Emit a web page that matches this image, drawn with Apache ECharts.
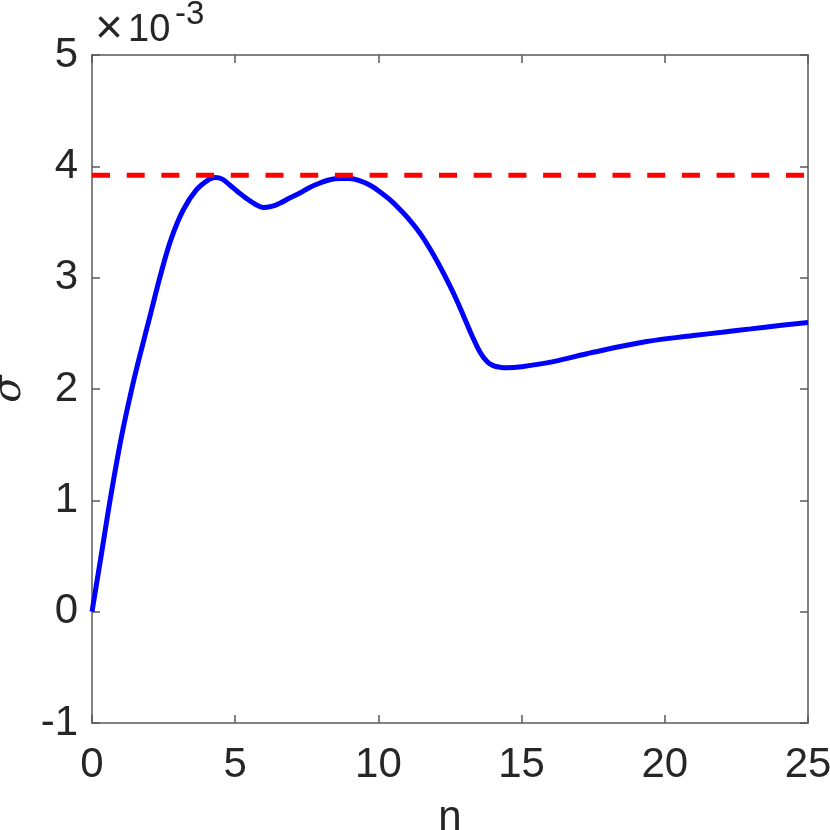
<!DOCTYPE html>
<html>
<head>
<meta charset="utf-8">
<script src="https://cdn.jsdelivr.net/npm/echarts@6/dist/echarts.min.js"></script>
<style>html,body{margin:0;padding:0;background:#fff}#c{width:830px;height:830px}</style>
</head>
<body>
<div id="c"></div>
<script>
// sigma values in units of 1e-3
const nValues = [0,0.33,0.67,1.02,1.37,1.70,2.05,2.43,2.78,3.19,3.65,4.07,4.30,4.55,4.82,5.10,5.40,5.70,5.98,6.27,6.57,6.90,7.26,7.60,7.96,8.30,8.66,9.00,9.36,9.71,10.06,10.40,10.76,11.10,11.45,11.80,12.15,12.45,12.73,13.00,13.25,13.55,13.80,14.01,14.25,14.48,15.0,16.11,17.5,19.37,21,22,23,24,25];
const sigmaValues = [0,0.52,1.06,1.56,1.98,2.33,2.68,3.06,3.36,3.61,3.79,3.88,3.90,3.885,3.83,3.77,3.71,3.66,3.63,3.64,3.67,3.715,3.76,3.81,3.85,3.88,3.89,3.89,3.87,3.83,3.77,3.70,3.61,3.515,3.40,3.26,3.10,2.95,2.80,2.64,2.49,2.33,2.245,2.21,2.195,2.19,2.20,2.246,2.33,2.426,2.48,2.51,2.54,2.57,2.597];
const refN = [0, 25];
const refSigma = [3.92, 3.92];
const xTicks = [0,5,10,15,20,25];
const yTicks = [-1,0,1,2,3,4,5];

const FONT = "'Liberation Sans', Arial, Helvetica, sans-serif";
const axisCol = '#5a5a5a';
const textCol = '#262626';

const chart = echarts.init(document.getElementById('c'), null, {renderer:'canvas'});
const baseX = {
  type:'value', min:xTicks[0], max:xTicks[xTicks.length-1], interval:5,
  axisLine:{show:true, onZero:false, lineStyle:{color:axisCol, width:1.5}},
  axisTick:{show:true, inside:true, length:8, lineStyle:{color:axisCol, width:1.5}},
  splitLine:{show:false}
};
const baseY = {
  type:'value', min:yTicks[0], max:yTicks[yTicks.length-1], interval:1,
  axisLine:{show:true, onZero:false, lineStyle:{color:axisCol, width:1.5}},
  axisTick:{show:true, inside:true, length:8, lineStyle:{color:axisCol, width:1.5}},
  splitLine:{show:false}
};
chart.setOption({
  animation:false,
  backgroundColor:'#fff',
  grid:{left:92, right:22, top:55, bottom:107, containLabel:false, outerBoundsMode:'none'},
  xAxis:[
    Object.assign({}, baseX, {position:'bottom',
      axisLabel:{show:true, margin:21, fontSize:42, color:textCol, fontFamily:FONT},
      name:'n', nameLocation:'middle', nameGap:74,
      nameTextStyle:{fontSize:42, color:textCol, fontFamily:FONT}}),
    Object.assign({}, baseX, {position:'top', axisLabel:{show:false}})
  ],
  yAxis:[
    Object.assign({}, baseY, {position:'left',
      axisLabel:{show:true, margin:14, fontSize:42, color:textCol, fontFamily:FONT},
      name:'σ', nameLocation:'middle', nameGap:57, nameRotate:90,
      nameTextStyle:{fontSize:40, color:textCol, fontFamily:"'DejaVu Serif', serif", fontStyle:'italic'}}),
    Object.assign({}, baseY, {position:'right', axisLabel:{show:false}})
  ],
  series:[
    {type:'line', xAxisIndex:0, yAxisIndex:0, data:nValues.map((n,i)=>[n, sigmaValues[i]]),
     smooth:0.4, showSymbol:false, lineStyle:{color:'#0000ff', width:5}, z:3},
    {type:'line', xAxisIndex:0, yAxisIndex:0, data:refN.map((n,i)=>[n, refSigma[i]]),
     showSymbol:false, lineStyle:{color:'#ff0000', width:5, type:[18,16.7]}, z:4}
  ],
  graphic:[
    {type:'text', left:95, top:6, style:{text:'×', fontSize:48, fill:textCol, fontFamily:FONT}},
    {type:'text', left:128, top:12, style:{text:'10', fontSize:38, fill:textCol, fontFamily:FONT}},
    {type:'text', left:175, top:-2, style:{text:'-3', fontSize:33, fill:textCol, fontFamily:FONT}}
  ]
});
</script>
</body>
</html>
